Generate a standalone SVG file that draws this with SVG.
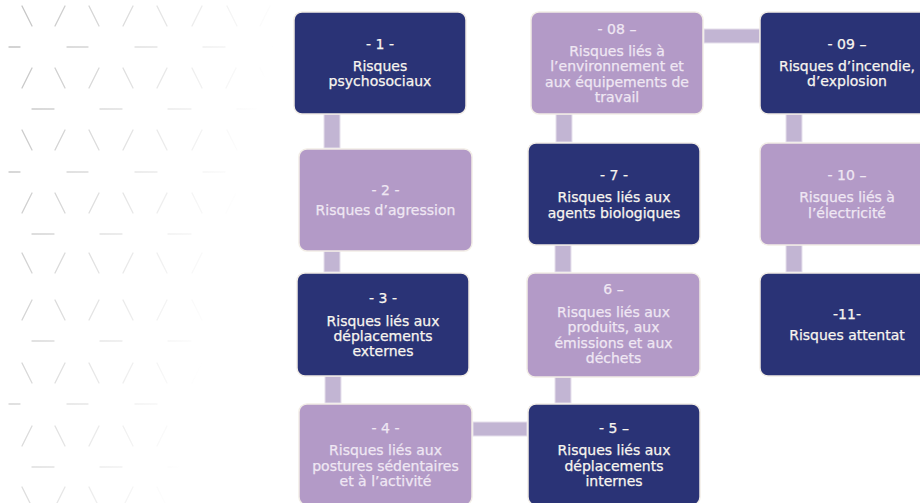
<svg xmlns="http://www.w3.org/2000/svg" width="920" height="503" viewBox="0 0 920 503">
<defs>
<linearGradient id="fade" gradientUnits="userSpaceOnUse" x1="20" y1="0" x2="300" y2="62">
<stop offset="0" stop-color="#c4c4c4"/>
<stop offset="0.9" stop-color="#ffffff"/>
</linearGradient>
<style>
.bg{stroke:url(#fade);stroke-width:1.3;fill:none;stroke-linecap:round}
.dark{fill:#2a3376;stroke:#f2ede6;stroke-width:1.5}
.light{fill:#b39ac7;stroke:#f2ede6;stroke-width:1.5}
.conn{fill:#c2b5d3;stroke:#e6e0ec;stroke-width:1}
text{font-family:"DejaVu Sans","Verdana",sans-serif;font-size:14px;text-anchor:middle;stroke-width:0.25}
.dt{fill:#f8f5ef;stroke:#f8f5ef}
.lt{fill:#efe7f3;stroke:#efe7f3}
</style>
</defs>
<rect width="920" height="503" fill="#ffffff"/>
<g id="background">
<path class="bg" d="M22 6l10 20M65 6l-10 20M89 6l10 20M133 6l-10 20M157 6l10 20M202 6l-10 20M227 6l10 20M270 6l-10 20"/>
<path class="bg" d="M32 68l-10 20M55 68l10 20M99 68l-10 20M123 68l10 20M167 68l-10 20M192 68l10 20M236 68l-10 20M260 68l10 20"/>
<path class="bg" d="M22 130l10 20M65 130l-10 20M89 130l10 20M133 130l-10 20M157 130l10 20M202 130l-10 20M227 130l10 20M270 130l-10 20"/>
<path class="bg" d="M32 193l-10 20M55 193l10 20M99 193l-10 20M123 193l10 20M167 193l-10 20M192 193l10 20M236 193l-10 20M260 193l10 20"/>
<path class="bg" d="M22 253l10 20M65 253l-10 20M89 253l10 20M133 253l-10 20M157 253l10 20M202 253l-10 20M227 253l10 20M270 253l-10 20"/>
<path class="bg" d="M32 300l-10 20M55 300l10 20M99 300l-10 20M123 300l10 20M167 300l-10 20M192 300l10 20M236 300l-10 20M260 300l10 20"/>
<path class="bg" d="M22 363l10 20M65 363l-10 20M89 363l10 20M133 363l-10 20M157 363l10 20M202 363l-10 20M227 363l10 20M270 363l-10 20"/>
<path class="bg" d="M32 426l-10 20M55 426l10 20M99 426l-10 20M123 426l10 20M167 426l-10 20M192 426l10 20M236 426l-10 20M260 426l10 20"/>
<path class="bg" d="M22 487l10 20M65 487l-10 20M89 487l10 20M133 487l-10 20M157 487l10 20M202 487l-10 20M227 487l10 20M270 487l-10 20"/>
<path class="bg" d="M9 47h11M67 47h21M135 47h22M203 47h22M272 47h20"/>
<path class="bg" d="M32 109h22M100 109h22M168 109h23M237 109h21"/>
<path class="bg" d="M9 172h11M67 172h21M135 172h22M203 172h22M272 172h20"/>
<path class="bg" d="M32 234h22M100 234h22M168 234h23M237 234h21"/>
<path class="bg" d="M32 341h22M100 341h22M168 341h23M237 341h21"/>
<path class="bg" d="M9 404h11M67 404h21M135 404h22M203 404h22M272 404h20"/>
<path class="bg" d="M32 467h22M100 467h22M168 467h23M237 467h21"/>
</g>
<g id="connectors">
<rect class="conn" x="324" y="114" width="16" height="34"/>
<rect class="conn" x="324" y="251" width="16" height="21"/>
<rect class="conn" x="325" y="376" width="16" height="27"/>
<rect class="conn" x="473" y="422" width="54" height="14"/>
<rect class="conn" x="555" y="377" width="16" height="26"/>
<rect class="conn" x="555" y="245" width="16" height="27"/>
<rect class="conn" x="556" y="114" width="16" height="28"/>
<rect class="conn" x="704" y="29" width="56" height="14"/>
<rect class="conn" x="786" y="114" width="16" height="28"/>
<rect class="conn" x="786" y="245" width="16" height="27"/>
</g>
<g id="node1">
<rect class="dark" x="294" y="12" width="172" height="102" rx="8"/>
<text class="dt" x="380" y="49">- 1 -</text>
<text class="dt" x="380" y="71">Risques</text>
<text class="dt" x="380" y="86">psychosociaux</text>
</g>
<g id="node2">
<rect class="light" x="299" y="149" width="173" height="102" rx="8"/>
<text class="lt" x="385.5" y="194.5">- 2 -</text>
<text class="lt" x="385.5" y="215">Risques d’agression</text>
</g>
<g id="node3">
<rect class="dark" x="297" y="273" width="172" height="103" rx="8"/>
<text class="dt" x="383" y="303">- 3 -</text>
<text class="dt" x="383" y="326">Risques liés aux</text>
<text class="dt" x="383" y="341">déplacements</text>
<text class="dt" x="383" y="356">externes</text>
</g>
<g id="node4">
<rect class="light" x="299" y="404" width="173" height="101" rx="8"/>
<text class="lt" x="385.5" y="432.5">- 4 -</text>
<text class="lt" x="385.5" y="455">Risques liés aux</text>
<text class="lt" x="385.5" y="470.5">postures sédentaires</text>
<text class="lt" x="385.5" y="486">et à l’activité</text>
</g>
<g id="node5">
<rect class="dark" x="528" y="404" width="172" height="101" rx="8"/>
<text class="dt" x="614" y="433">- 5 –</text>
<text class="dt" x="614" y="455">Risques liés aux</text>
<text class="dt" x="614" y="470.5">déplacements</text>
<text class="dt" x="614" y="486">internes</text>
</g>
<g id="node6">
<rect class="light" x="527" y="273" width="173" height="104" rx="8"/>
<text class="lt" x="613.5" y="294">6 –</text>
<text class="lt" x="613.5" y="316.5">Risques liés aux</text>
<text class="lt" x="613.5" y="332">produits, aux</text>
<text class="lt" x="613.5" y="347.5">émissions et aux</text>
<text class="lt" x="613.5" y="362.5">déchets</text>
</g>
<g id="node7">
<rect class="dark" x="528" y="143" width="172" height="102" rx="8"/>
<text class="dt" x="614" y="180">- 7 -</text>
<text class="dt" x="614" y="202">Risques liés aux</text>
<text class="dt" x="614" y="217.5">agents biologiques</text>
</g>
<g id="node8">
<rect class="light" x="531" y="12" width="172" height="102" rx="8"/>
<text class="lt" x="617" y="33.5">- 08 –</text>
<text class="lt" x="617" y="55.5">Risques liés à</text>
<text class="lt" x="617" y="71">l’environnement et</text>
<text class="lt" x="617" y="86.5">aux équipements de</text>
<text class="lt" x="617" y="101.5">travail</text>
</g>
<g id="node9">
<rect class="dark" x="760" y="12" width="174" height="102" rx="8"/>
<text class="dt" x="847" y="48.5">- 09 –</text>
<text class="dt" x="847" y="70.5">Risques d’incendie,</text>
<text class="dt" x="847" y="86">d’explosion</text>
</g>
<g id="node10">
<rect class="light" x="760" y="143" width="174" height="102" rx="8"/>
<text class="lt" x="847" y="180">- 10 –</text>
<text class="lt" x="847" y="202">Risques liés à</text>
<text class="lt" x="847" y="217.5">l’électricité</text>
</g>
<g id="node11">
<rect class="dark" x="760" y="273" width="174" height="103" rx="8"/>
<text class="dt" x="847" y="319">-11-</text>
<text class="dt" x="847" y="340">Risques attentat</text>
</g>
</svg>
